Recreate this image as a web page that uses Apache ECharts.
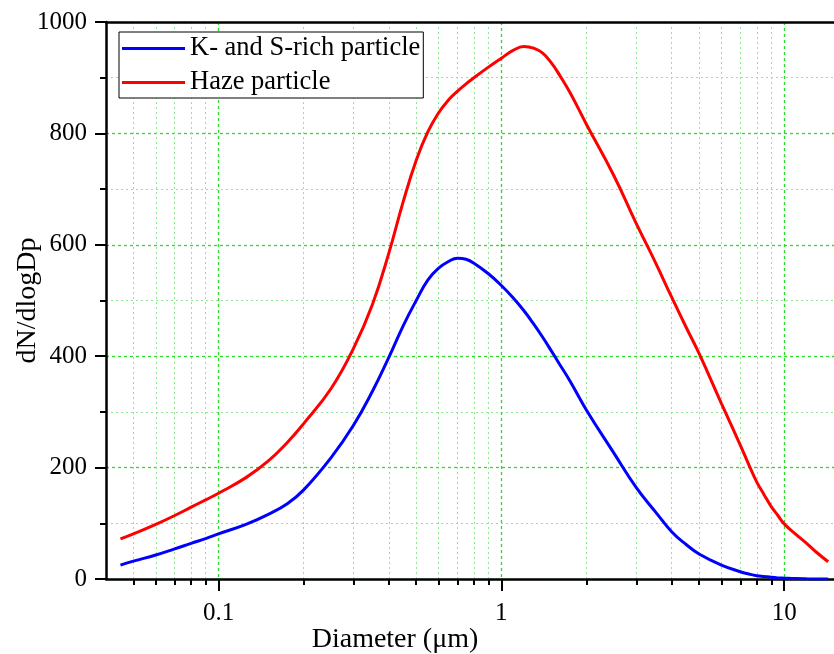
<!DOCTYPE html>
<html>
<head>
<meta charset="utf-8">
<title>dN/dlogDp</title>
<script src="https://cdn.jsdelivr.net/npm/echarts@6/dist/echarts.min.js"></script>
<style>
    html, body { margin: 0; padding: 0; background: #fff; }
    #chart { width: 834px; height: 654px; }
</style>
</head>
<body>
<div id="chart"></div>
<script>
    // diameters in um
    var diameters = [0.045, 0.05, 0.06, 0.07, 0.08, 0.09, 0.1, 0.125, 0.15, 0.175, 0.2, 0.25, 0.3, 0.35, 0.4, 0.45,
        0.5, 0.55, 0.6, 0.65, 0.7, 0.75, 0.8, 0.9, 1.0, 1.1, 1.2, 1.3, 1.4, 1.5, 1.6, 1.75, 2.0, 2.5, 3, 3.5, 4, 4.5,
        5, 6, 7, 7.5, 8, 8.5, 9, 9.5, 10, 11, 12, 13, 14.3];
    var kSRich = [25, 32, 43, 54, 64, 72.5, 81, 98, 116, 135, 160, 218, 276, 337, 398, 455,
        500, 537, 558, 570, 576, 574, 567, 548, 527, 505, 482, 458, 434, 410, 387, 355, 303, 226, 164, 121, 85, 62,
        45, 25, 13, 9, 6, 4.5, 3, 2, 1.5, 0.7, 0.3, 0.1, 0];
    var haze = [72, 81, 98, 114, 129, 142, 154, 182, 212, 245, 279, 342, 414, 493, 585, 678,
        752, 803, 837, 860, 876, 889, 900, 919, 935, 949, 956, 953, 944, 927, 906, 873, 816, 724, 638, 569, 506, 452,
        405, 315, 240, 205, 174, 151, 130, 114, 99, 80, 64, 48, 31];
    var seriesNames = ['K- and S-rich particle', 'Haze particle'];
    var majorX = [0.1, 1, 10];
    var minorX = [0.05, 0.06, 0.07, 0.08, 0.09, 0.2, 0.3, 0.4, 0.5, 0.6, 0.7, 0.8, 0.9,
        2, 3, 4, 5, 6, 7, 8, 9];

    var serif = "'Liberation Serif', 'Times New Roman', serif";
    var gridMajor = '#2fd82f';
    var gridMinor = '#8ee88e';

    var chart = echarts.init(document.getElementById('chart'));

    function pairs(vals) {
        return diameters.map(function (d, i) { return [d, vals[i]]; });
    }

    var xBase = {
        type: 'log',
        logBase: 10,
        min: 0.04,
        max: 15,
        gridIndex: 0
    };

    var option = {
        animation: false,
        backgroundColor: '#fff',
        grid: {
            left: 106,
            right: 0,
            top: 22,
            bottom: 75,
            containLabel: false,
            outerBoundsMode: 'none'
        },
        legend: {
            orient: 'vertical',
            left: 119,
            top: 32,
            padding: [3, 3, 2, 3],
            itemGap: 7,
            itemWidth: 63,
            itemHeight: 3,
            icon: 'rect',
            backgroundColor: '#fff',
            borderColor: '#000',
            borderWidth: 1,
            borderRadius: 0,
            textStyle: { fontFamily: serif, fontSize: 26.5, color: '#000', lineHeight: 26 },
            data: seriesNames
        },
        xAxis: [
            Object.assign({}, xBase, {
                position: 'bottom',
                name: 'Diameter (\u03bcm)',
                nameLocation: 'middle',
                nameGap: 47,
                nameMoveOverlap: false,
                nameTextStyle: { fontFamily: serif, fontSize: 28, color: '#000', padding: [0, 150, 0, 0] },
                axisLine: { show: true, lineStyle: { color: '#000', width: 2.5 } },
                axisTick: { show: true, length: 12, lineStyle: { color: '#000', width: 2 }, customValues: majorX },
                axisLabel: {
                    show: true,
                    margin: 22,
                    fontFamily: serif,
                    fontSize: 25,
                    color: '#000',
                    customValues: majorX,
                    formatter: function (v) { return v < 1 ? v.toFixed(1) : String(Math.round(v)); }
                },
                splitLine: { show: true, lineStyle: { color: gridMajor, width: 1.3, type: [3, 3] } }
            }),
            Object.assign({}, xBase, {
                position: 'bottom',
                axisLine: { show: false },
                axisTick: { show: true, length: 6, lineStyle: { color: '#000', width: 2 }, customValues: minorX },
                axisLabel: { show: false },
                splitLine: { show: true, lineStyle: { color: gridMinor, width: 1, type: [2, 3] } }
            }),
            // top frame line
            Object.assign({}, xBase, {
                position: 'top',
                axisLine: { show: true, lineStyle: { color: '#000', width: 2.5 } },
                axisTick: { show: false },
                axisLabel: { show: false },
                splitLine: { show: false }
            })
        ],
        yAxis: {
            type: 'value',
            min: 0,
            max: 1000,
            interval: 200,
            name: 'dN/dlogDp',
            nameLocation: 'middle',
            nameGap: 64,
            nameMoveOverlap: false,
            nameTextStyle: { fontFamily: serif, fontSize: 28, color: '#000' },
            axisLine: { show: true, lineStyle: { color: '#000', width: 2.5 } },
            axisTick: { show: true, length: 11, lineStyle: { color: '#000', width: 2 } },
            minorTick: { show: true, splitNumber: 2, length: 6, lineStyle: { color: '#000', width: 2 } },
            axisLabel: {
                margin: 19, fontFamily: serif, fontSize: 25, color: '#000',
                formatter: function (v) { return String(v); }
            },
            splitLine: { show: true, lineStyle: { color: gridMajor, width: 1.3, type: [3, 3] } },
            minorSplitLine: { show: true, lineStyle: { color: gridMinor, width: 1, type: [2, 3] } }
        },
        series: [
            {
                name: seriesNames[0],
                type: 'line',
                xAxisIndex: 0,
                data: pairs(kSRich),
                smooth: 0.45,
                showSymbol: false,
                color: '#0000ff',
                lineStyle: { width: 3, color: '#0000ff' },
                z: 3
            },
            {
                name: seriesNames[1],
                type: 'line',
                xAxisIndex: 0,
                data: pairs(haze),
                smooth: 0.45,
                showSymbol: false,
                color: '#ff0000',
                lineStyle: { width: 3, color: '#ff0000' },
                z: 3
            }
        ]
    };

    chart.setOption(option);
</script>
</body>
</html>
